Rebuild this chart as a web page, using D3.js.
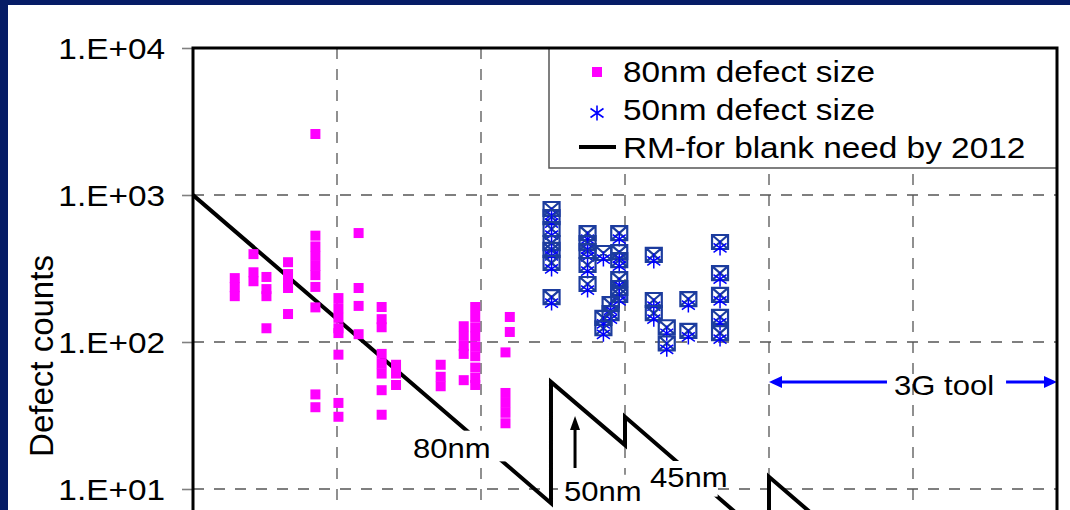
<!DOCTYPE html>
<html><head><meta charset="utf-8">
<script src="https://cdn.jsdelivr.net/npm/d3@7"></script>
<style>
html,body{margin:0;padding:0;background:#061c66;overflow:hidden;}
svg{display:block;}
text{font-family:"Liberation Sans", Arial, Helvetica, sans-serif;fill:#000;}
</style></head><body>
<svg id="chart" width="1070" height="510"></svg>
<script>
// ---------- data ----------
const xDomain = [2004, 2010];
const yDomain = [1, 10000];
const yTicks = [10, 100, 1000, 10000];
const xGrid = [2005, 2006, 2007, 2008, 2009];
const yGrid = [10, 100, 1000];

// 80nm defect size: [year, count]
const defects80 = [
  [2004.29,272],[2004.29,236],[2004.29,205],
  [2004.42,396],[2004.42,298],[2004.42,259],
  [2004.51,277],[2004.51,229],[2004.51,205],[2004.51,124],
  [2004.66,349],[2004.66,290],[2004.66,251],[2004.66,233],[2004.66,155],
  [2004.85,2600],[2004.85,529],[2004.85,447],[2004.85,385],[2004.85,330],[2004.85,285],[2004.85,237],[2004.85,172],[2004.85,44],[2004.85,36],
  [2005.01,199],[2005.01,170],[2005.01,146],[2005.01,124],[2005.01,115],[2005.01,82],[2005.01,38.5],[2005.01,31],
  [2005.15,551],[2005.15,233],[2005.15,176],[2005.15,113],
  [2005.31,173],[2005.31,143],[2005.31,126],[2005.31,83],[2005.31,71],[2005.31,61],[2005.31,47],[2005.31,32],
  [2005.41,70],[2005.41,61],[2005.41,51],
  [2005.72,70],[2005.72,58],[2005.72,50],
  [2005.88,128],[2005.88,110],[2005.88,94],[2005.88,83],[2005.88,55],
  [2005.96,173],[2005.96,148],[2005.96,126],[2005.96,109],[2005.96,93],[2005.96,80],[2005.96,67],[2005.96,57],[2005.96,51],
  [2006.20,148],[2006.20,117],
  [2006.17,85],[2006.17,45],[2006.17,38.5],[2006.17,33],[2006.17,28],[2006.17,22.3],[2006.17,19]
];

// 50nm defect size: [year, count]
const defects50 = [
  [2006.49,803],[2006.49,708],[2006.49,587],[2006.49,471],[2006.49,423],[2006.49,345],[2006.49,202],
  [2006.74,551],[2006.74,471],[2006.74,416],[2006.74,334],[2006.74,248],
  [2006.85,403],
  [2006.96,551],[2006.96,409],[2006.96,361],[2006.96,268],[2006.96,233],[2006.96,209],
  [2006.90,181],[2006.90,157],
  [2006.85,146],[2006.85,124],
  [2007.20,391],[2007.20,193],[2007.20,157],
  [2007.29,126],[2007.29,98],
  [2007.44,196],[2007.44,119],
  [2007.66,479],[2007.66,294],[2007.66,209],[2007.66,148],[2007.66,115]
];

// Roadmap line
const roadmapX = [2004, 2006.486, 2006.486, 2007, 2007, 2008, 2008, 2010];
const roadmapY = [1000, 8.0, 53.5, 19.9, 31, 4.4, 12.1, 0.25];

const legendLabels = ["80nm defect size", "50nm defect size", "RM-for blank need by 2012"];
const nodeLabels = ["80nm", "50nm", "45nm"];
const nodeLabelX = [2005.528, 2006.576, 2007.174];
const nodeLabelY = [16.3, 8.3, 10.3];
const toolLabel = "3G tool";
const toolRange = [2008, 2010];
const toolLevel = 53.5;
const axisTitle = "Defect counts";

// ---------- layout ----------
const svg = d3.select("#chart");
const W = 1070, H = 510;
const plot = {left:193, top:48, right:1057, bottom:636};
const SX = 1.15; // horizontal text stretch

const x = d3.scaleLinear().domain(xDomain).range([plot.left, plot.right]);
const y = d3.scaleLog().domain(yDomain).range([plot.bottom, plot.top]);

// background panel
svg.append("rect").attr("x",0).attr("y",0).attr("width",W).attr("height",H).attr("fill","#061c66");
svg.append("rect").attr("x",8).attr("y",5).attr("width",W-8).attr("height",H-5).attr("fill","#ffffff");

const defs = svg.append("defs");
defs.append("clipPath").attr("id","clip").append("rect")
  .attr("x",plot.left).attr("y",plot.top)
  .attr("width",plot.right-plot.left).attr("height",plot.bottom-plot.top);

// gridlines
const grid = svg.append("g").attr("stroke","#555").attr("stroke-width",1.3).attr("stroke-dasharray","11,10");
grid.selectAll("line.h").data(yGrid).join("line").attr("class","h")
  .attr("x1",plot.left).attr("x2",plot.right).attr("y1",d=>y(d)).attr("y2",d=>y(d));
grid.selectAll("line.v").data(xGrid).join("line").attr("class","v")
  .attr("x1",d=>x(d)).attr("x2",d=>x(d)).attr("y1",plot.top).attr("y2",plot.bottom);

// y axis
const yAxis = d3.axisLeft(y).tickValues(yTicks).tickSize(11).tickPadding(17)
  .tickFormat(d => "1.E+" + String(Math.round(Math.log10(d))).padStart(2,"0"));
const ya = svg.append("g").attr("transform",`translate(${plot.left},0)`).call(yAxis);
ya.select(".domain").remove();
ya.selectAll(".tick line").attr("stroke","#808080").attr("stroke-width",1.6);
ya.selectAll(".tick text")
  .attr("font-size",29).attr("fill","#000")
  .attr("font-family","'Liberation Sans', Arial, sans-serif")
  .attr("x", -28/SX).attr("dy","0.36em")
  .attr("transform",`scale(${SX},1)`);

// axis title
svg.append("text").attr("transform","translate(53,356) rotate(-90)")
  .attr("text-anchor","middle").attr("font-size",33).text(axisTitle);

// data layer (clipped)
const layer = svg.append("g").attr("clip-path","url(#clip)");

// roadmap line
const rm = roadmapX.map((d,i)=>[d, roadmapY[i]]);
layer.append("path").datum(rm)
  .attr("d", d3.line().x(d=>x(d[0])).y(d=>y(d[1])))
  .attr("fill","none").attr("stroke","#000").attr("stroke-width",4).attr("stroke-linejoin","miter");

// 80nm squares
layer.selectAll("rect.p80").data(defects80).join("rect").attr("class","p80")
  .attr("x",d=>x(d[0])-5).attr("y",d=>y(d[1])-5).attr("width",10).attr("height",10)
  .attr("fill","#ff00ff");

// 50nm markers: boxed X plus asterisk
const starPath = "M0,-7.5V7.5M-6.5,-4.5L6.5,4.5M-6.5,4.5L6.5,-4.5";
const g50 = layer.selectAll("g.p50").data(defects50).join("g").attr("class","p50")
  .attr("transform",d=>`translate(${x(d[0])},${y(d[1])})`);
g50.append("path").attr("d","M-8,-7H8V7H-8Z M-8,-7L8,7 M-8,7L8,-7")
  .attr("fill","none").attr("stroke","#1c3c9e").attr("stroke-width",2.2);
g50.append("path").attr("d",starPath).attr("transform","translate(0,6)")
  .attr("fill","none").attr("stroke","#0000ff").attr("stroke-width",1.5);

// node labels with white background
const boxPad = [[8,22,9,4],[6,6,8,4],[6,-10,8,10]]; // left,right,top,bottom
nodeLabels.forEach((t,i)=>{
  const g = layer.append("g").attr("transform",`translate(${x(nodeLabelX[i])},${y(nodeLabelY[i])}) scale(${SX},1)`);
  const r = g.append("rect").attr("fill","#fff");
  const tx = g.append("text").attr("font-size",27).text(t);
  const bb = tx.node().getBBox();
  const p = boxPad[i];
  r.attr("x",bb.x - p[0]/SX).attr("y",bb.y + 6 - p[2]).attr("width",bb.width + (p[0]+p[1])/SX)
   .attr("height",bb.height - 6 + p[2] + p[3] - 6);
});

// 50nm arrow
const arrowX = 2006.653, arrowFrom = 13.9, arrowTo = 31.4;
layer.append("line").attr("x1",x(arrowX)).attr("x2",x(arrowX)).attr("y1",y(arrowFrom)).attr("y2",y(arrowTo)+10)
  .attr("stroke","#000").attr("stroke-width",3);
layer.append("path").attr("d",`M${x(arrowX)},${y(arrowTo)} l-5,14 h10 Z`).attr("fill","#000");

// 3G tool arrows
const ty = y(toolLevel);
const tg = layer.append("g");
const tText = tg.append("g").attr("transform",`translate(${x(4.868+2004)},${ty+13}) scale(${SX},1)`)
  .append("text").attr("font-size",27).text(toolLabel);
const tb = tText.node().getBBox();
const tx0 = x(4.868+2004), tx1 = tx0 + tb.width*SX;
tg.append("line").attr("x1",x(toolRange[0])+10).attr("x2",tx0-7).attr("y1",ty).attr("y2",ty)
  .attr("stroke","#0000ff").attr("stroke-width",3);
tg.append("path").attr("d",`M${x(toolRange[0])},${ty} l13,-6 v12 Z`).attr("fill","#0000ff");
tg.append("line").attr("x1",tx1+12).attr("x2",x(toolRange[1])-10).attr("y1",ty).attr("y2",ty)
  .attr("stroke","#0000ff").attr("stroke-width",3);
tg.append("path").attr("d",`M${x(toolRange[1])},${ty} l-13,-6 v12 Z`).attr("fill","#0000ff");

// legend
const lg = svg.append("g");
lg.append("rect").attr("x",549).attr("y",plot.top).attr("width",plot.right-549).attr("height",120)
  .attr("fill","#fff").attr("stroke","#555").attr("stroke-width",1.5);
const rowY = [72, 113, 147];
const baseY = [82, 120, 158];
lg.append("rect").attr("x",592).attr("y",rowY[0]-5).attr("width",10).attr("height",10).attr("fill","#ff00ff");
lg.append("path").attr("d",starPath).attr("transform",`translate(597,${rowY[1]})`)
  .attr("fill","none").attr("stroke","#0000ff").attr("stroke-width",1.6);
lg.append("line").attr("x1",579).attr("x2",616).attr("y1",rowY[2]).attr("y2",rowY[2])
  .attr("stroke","#000").attr("stroke-width",4);
legendLabels.forEach((t,i)=>{
  lg.append("text").attr("transform",`translate(623,${baseY[i]}) scale(${SX},1)`)
    .attr("font-size",29).text(t);
});

// plot frame
svg.append("path")
  .attr("d",`M${plot.left},${plot.bottom}V${plot.top}H${plot.right}V${plot.bottom}`)
  .attr("fill","none").attr("stroke","#000").attr("stroke-width",3);
</script>
</body></html>
